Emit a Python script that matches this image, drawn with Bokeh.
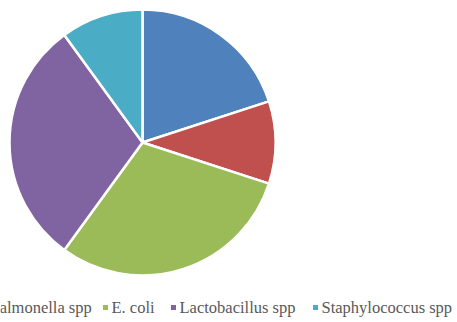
import math
from bokeh.plotting import figure
from bokeh.models import Range1d
from bokeh.core.properties import value
from bokeh.embed import file_html
from bokeh.resources import INLINE

# Data (clockwise from 12 o'clock)
categories = ["(hidden)", "Salmonella spp", "E. coli", "Lactobacillus spp", "Staphylococcus spp"]
shares = [20, 10, 30, 30, 10]
colors = ["#4F81BD", "#C0504D", "#9BBB59", "#8064A2", "#4BACC6"]

W, H = 457, 322
p = figure(width=W, height=H, output_backend="svg", toolbar_location=None,
           x_range=Range1d(0, W), y_range=Range1d(0, H), min_border=0)
p.axis.visible = False
p.xgrid.visible = False
p.ygrid.visible = False
p.outline_line_color = None
p.background_fill_color = "white"

cx, cy, r = 142, 322 - 142, 133
total = sum(shares)
cum = 0
starts, ends = [], []
for s in shares:
    a0 = math.pi / 2 - 2 * math.pi * cum / total
    cum += s
    a1 = math.pi / 2 - 2 * math.pi * cum / total
    starts.append(a1)
    ends.append(a0)

p.wedge(x=[cx] * len(shares), y=[cy] * len(shares), radius=r,
        start_angle=starts, end_angle=ends, fill_color=colors,
        line_color="white", line_width=2.5)

# Legend (left part cropped like the reference)
leg_y = 322 - 307
item_x = [-36, -16, 105, 173, 315]   # marker x positions
for i in range(1, len(categories)):
    mx = item_x[i]
    p.scatter(x=[mx], y=[leg_y], marker="square", size=5,
              fill_color=colors[i], line_color=None)
    p.text(x=[mx + 6], y=[leg_y], text=[categories[i]],
           text_font=value("Liberation Serif"), text_font_size="16.5px",
           text_color="#595959", text_baseline="middle", text_align="left")

open("out.html", "w").write(file_html(p, INLINE))
